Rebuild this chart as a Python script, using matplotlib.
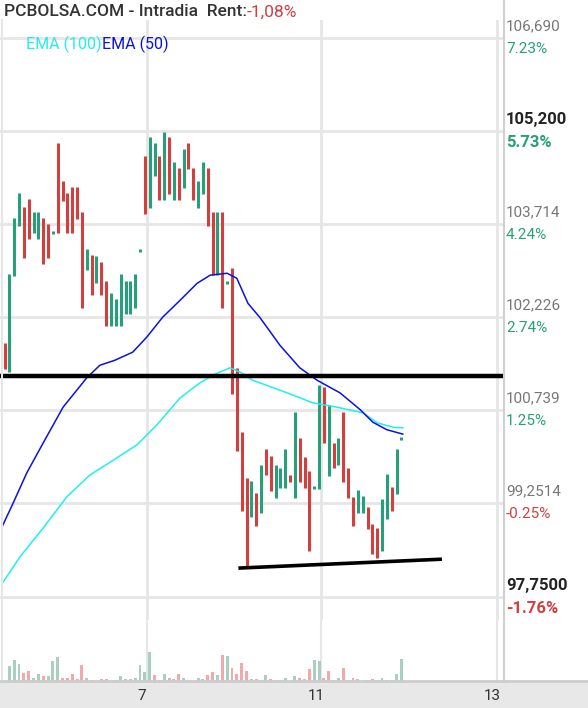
import numpy as np
import matplotlib
matplotlib.use("Agg")
import matplotlib.pyplot as plt

plt.rcParams['font.family'] = ['Roboto', 'DejaVu Sans']

# --- candles: body top / bottom price, direction (1 = up) ---
bar_hi = [101.82, 102.92, 103.81, 104.21, 103.99, 104.12, 103.91, 103.91, 103.81, 103.72,
          103.59, 105.01, 104.40, 104.21, 104.31, 104.31, 103.91, 103.32, 103.22, 103.21,
          103.11, 102.81, 102.61, 102.52, 102.92, 102.81, 102.81, 102.92, 103.30, 104.80,
          105.11, 105.01, 104.80, 105.19, 105.11, 104.71, 104.61, 104.92, 105.01, 104.61,
          104.40, 104.71, 104.61, 103.91, 103.91, 103.91, 102.79, 103.01, 101.42, 100.39,
          99.66, 99.61, 99.42, 99.87, 100.12, 100.01, 99.87, 99.82, 100.12, 99.71,
          100.71, 100.30, 99.99, 99.77, 99.52, 101.15, 101.11, 100.83, 100.22, 100.30,
          100.71, 99.82, 99.36, 99.47, 99.37, 99.20, 98.92, 98.86, 99.32, 99.72,
          99.52, 100.12, 100.30]
bar_lo = [101.40, 101.35, 102.89, 103.69, 103.17, 103.48, 103.57, 103.48, 103.08, 103.17,
          103.57, 103.57, 104.08, 103.57, 103.57, 103.80, 102.38, 102.98, 102.58, 102.77,
          102.58, 102.09, 102.09, 102.09, 102.09, 102.28, 102.28, 102.38, 103.28, 103.88,
          103.97, 104.48, 104.10, 104.10, 104.20, 104.10, 104.10, 104.29, 104.60, 104.10,
          103.97, 104.20, 103.69, 102.90, 102.90, 102.38, 102.77, 101.00, 100.09, 99.13,
          98.24, 99.04, 98.89, 99.10, 99.71, 99.45, 99.34, 99.50, 99.50, 99.60,
          99.34, 99.60, 99.50, 98.49, 99.50, 99.48, 100.22, 99.69, 99.82, 99.87,
          99.60, 99.34, 98.89, 99.10, 99.10, 98.84, 98.44, 98.38, 98.49, 99.00,
          99.13, 99.40, 100.28]
bar_up = [0, 1, 1, 1, 0, 0, 1, 1, 0, 0, 1, 0, 0, 0, 0, 0, 0, 1, 0, 1,
          0, 0, 1, 1, 1, 1, 1, 1, 1, 0, 1, 1, 0, 1, 0, 1, 0, 1, 0, 0,
          1, 1, 0, 0, 1, 0, 1, 0, 0, 0, 0, 1, 0, 1, 0, 0, 1, 1, 1, 0,
          1, 0, 0, 0, 1, 1, 0, 1, 0, 1, 0, 0, 0, 1, 1, 0, 0, 0, 1, 1,
          0, 1, 1]

# --- volume (relative heights) ---
vol = [3, 42, 60, 48, 24, 30, 12, 21, 15, 15, 57, 66, 12, 12, 21, 9, 45, 12, 6, 3,
       9, 9, 3, 6, 15, 9, 9, 12, 45, 27, 81, 18, 6, 21, 12, 9, 21, 12, 3, 3,
       12, 9, 18, 27, 18, 72, 69, 39, 21, 51, 30, 9, 9, 6, 18, 9, 6, 6, 12, 3,
       15, 12, 9, 36, 60, 57, 12, 30, 6, 12, 39, 6, 12, 9, 3, 6, 9, 6, 12, 6,
       6, 21, 63]
vol_up = [0, 1, 1, 1, 0, 0, 1, 1, 0, 1, 1, 1, 0, 0, 0, 0, 0, 1, 0, 1,
          0, 0, 1, 0, 1, 1, 1, 1, 1, 1, 1, 0, 0, 1, 0, 1, 0, 1, 0, 0,
          1, 1, 0, 0, 1, 0, 1, 0, 0, 0, 0, 1, 0, 1, 1, 0, 1, 0, 1, 1,
          1, 0, 1, 0, 1, 1, 0, 0, 0, 1, 0, 0, 0, 1, 0, 0, 0, 1, 1, 1,
          0, 1, 1]

# --- EMA readings (bar index, price) ---
ema50_x = [-0.5, 1.8, 4.6, 8.0, 12.1, 17.0, 19.7, 22.8, 26.5, 29.4, 32.7, 36.3, 39.8,
           42.5, 46, 48, 50.3, 52.8, 56.9, 61, 64.6, 69.3, 73.5, 76.1, 79, 82.3]
ema50_y = [98.88, 99.26, 99.74, 100.22, 100.79, 101.26, 101.46, 101.54, 101.67,
           101.91, 102.23, 102.50, 102.77, 102.90, 102.93, 102.85, 102.45, 102.22, 101.78,
           101.42, 101.22, 101.02, 100.75, 100.55, 100.43, 100.36]
ema100_x = [-0.5, 3.2, 8.0, 12.9, 17.7, 21.8, 27.4, 31.5, 36.3, 40.4, 43.5, 46.6, 48.7,
            51.3, 58.4, 63.7, 68.7, 74.1, 77, 80.3, 82.3]
ema100_y = [97.97, 98.40, 98.86, 99.36, 99.71, 99.91, 100.19, 100.51, 100.94, 101.18,
            101.32, 101.42, 101.35, 101.22, 101.02, 100.86, 100.79, 100.70, 100.54,
            100.47, 100.46]

support_level = 101.29
trend_x = [48.7, 90]
trend_y = [98.22, 98.36]

grid_prices = [106.690, 105.200, 103.714, 102.226, 100.739, 99.2514, 97.7500]
price_labels = ["106,690", "105,200", "103,714", "102,226", "100,739", "99,2514", "97,7500"]
pct_labels = ["7.23%", "5.73%", "4.24%", "2.74%", "1.25%", "-0.25%", "-1.76%"]
bold_rows = [1, 6]
xtick_pos = [29.4, 65.4, 101.8]
xtick_labels = ["7", "11", "13"]

GREEN = '#26a07a'
RED = '#d13f3f'
GRID = '#e6e6e6'

W, H = 588, 708
fig = plt.figure(figsize=(W / 100, H / 100), dpi=100)

def frac(x0, y0, x1, y1):
    return [x0 / W, 1 - y1 / H, (x1 - x0) / W, (y1 - y0) / H]

px_per_bar = 4.84
xlim = (-4.5 / px_per_bar, (504 - 4.5) / px_per_bar)

# price panel
ax = fig.add_axes(frac(0, 20, 504, 620))
ax.set_xlim(*xlim)
ax.set_ylim(107.297 - 0.01598 * 620, 107.297 - 0.01598 * 20)
for p in grid_prices:
    ax.axhline(p, color=GRID, lw=2, zorder=0)
for xt in xtick_pos:
    ax.axvline(xt, color=GRID, lw=2, zorder=0)

idx = np.arange(len(bar_hi))
for i in idx:
    c = GREEN if bar_up[i] else RED
    hi, lo = bar_hi[i], bar_lo[i]
    if hi - lo < 0.03:
        hi, lo = hi + 0.015, lo - 0.015
    ax.vlines(i, lo, hi, color=c, lw=2.2, zorder=2)

ax.plot(ema100_x, ema100_y, color='#22eeee', lw=1.1, zorder=3)
ax.plot(ema50_x, ema50_y, color='#0a12e0', lw=1.1, zorder=3)
ax.plot([-0.5, 102.5], [support_level, support_level], color='black', lw=3.2, zorder=4)
ax.plot(trend_x, trend_y, color='black', lw=2.6, zorder=4)

for s in ax.spines.values():
    s.set_visible(False)
ax.set_xticks([])
ax.set_yticks([])

# right-side labels
for k, p in enumerate(grid_prices):
    bold = k in bold_rows
    pc = GREEN if not pct_labels[k].startswith('-') else RED
    y_px = (107.297 - p) / 0.01598
    fs = 12 if bold else 11
    fig.text(506 / W, 1 - (y_px - 12) / H, price_labels[k], fontsize=fs,
             color='#222222' if bold else '#777777', fontweight='bold' if bold else 'normal',
             va='center', ha='left')
    fig.text(506 / W, 1 - (y_px + 11) / H, pct_labels[k], fontsize=fs,
             color=pc, fontweight='bold' if bold else 'normal', va='center', ha='left')

# volume panel
axv = fig.add_axes(frac(0, 620, 504, 682))
axv.set_xlim(*xlim)
axv.set_ylim(0, 167)
for xt in xtick_pos:
    axv.axvline(xt, color=GRID, lw=1.5, zorder=0)
axv.bar(idx, vol, width=0.6, color=['#a8cfbf' if u else '#f2a9a9' for u in vol_up], zorder=2)
for s in axv.spines.values():
    s.set_visible(False)
axv.set_xticks([])
axv.set_yticks([])

# bottom axis band
axx = fig.add_axes(frac(0, 682, 588, 708))
axx.set_facecolor('#e8e8e8')
axx.set_xlim(xlim[0], xlim[0] + 588 / px_per_bar)
axx.set_ylim(0, 1)
for xt, lab in zip(xtick_pos, xtick_labels):
    axx.text(xt - 1.0, 0.45, lab, fontsize=11, color='#333333', ha='center', va='center')
for s in axx.spines.values():
    s.set_visible(False)
axx.set_xticks([])
axx.set_yticks([])

# borders
fig.add_artist(plt.Line2D([504 / W, 504 / W], [1 - 682 / H, 1], color='#d0d0d0', lw=1.5))
fig.add_artist(plt.Line2D([2 / W, 2 / W], [1 - 682 / H, 1 - 20 / H], color=GRID, lw=1.5))
fig.add_artist(plt.Line2D([0, 1], [1 - 681 / H, 1 - 681 / H], color='#cccccc', lw=2))

# title and legend
t = fig.text(4 / W, 1 - 12 / H, "PCBOLSA.COM - Intradia  Rent:", fontsize=12.5,
             fontweight='medium', color='#333333', va='center', ha='left')
fig.canvas.draw()
bb = t.get_window_extent()
fig.text(bb.x1 / W, 1 - 12 / H, "-1,08%", fontsize=12.5, color=RED, va='center', ha='left')
l1 = fig.text(26 / W, 1 - 44 / H, "EMA (100)", fontsize=11.5, color='#22eeee', va='center', ha='left')
fig.canvas.draw()
bb = l1.get_window_extent()
fig.text(bb.x1 / W, 1 - 44 / H, "EMA (50)", fontsize=11.5, color='#0a12e0', va='center', ha='left')

fig.savefig("out.png", dpi=100)
